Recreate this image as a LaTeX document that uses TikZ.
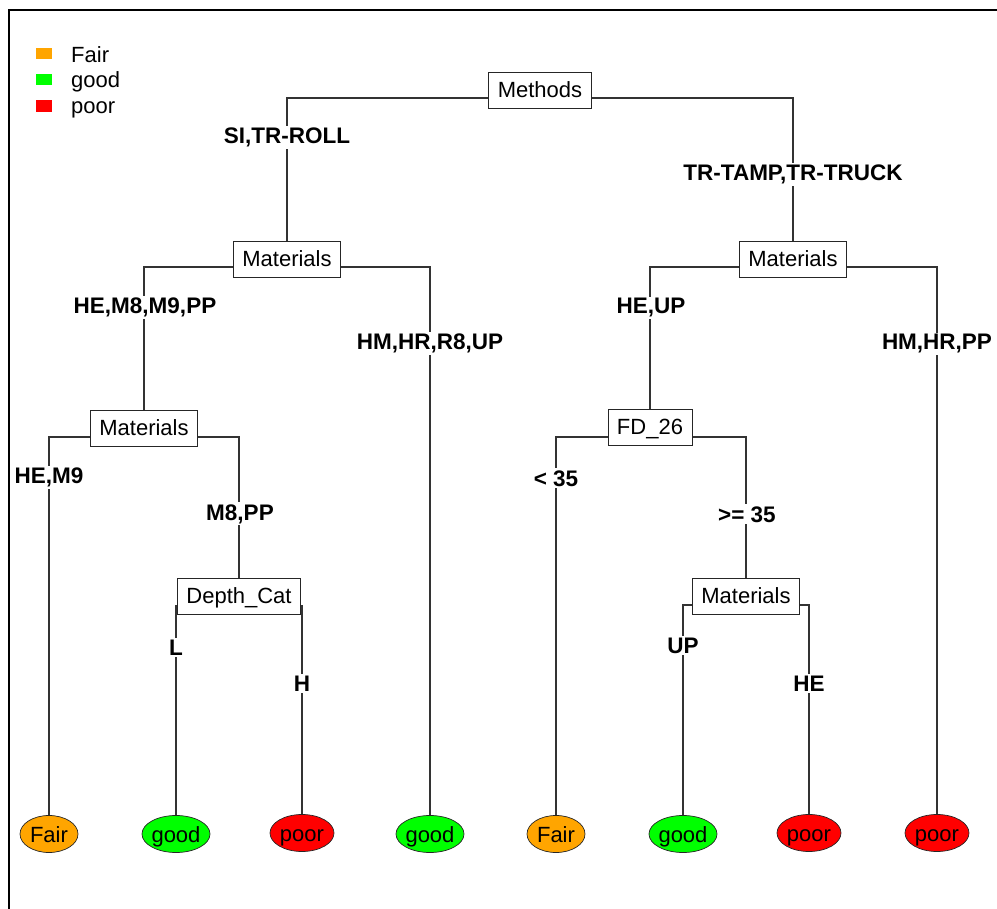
\documentclass[tikz,border=0pt]{standalone}
\usepackage{fontspec}
\setmainfont{Liberation Sans}
\usetikzlibrary{shapes.geometric,backgrounds}
\definecolor{fairc}{HTML}{FFA500}
\definecolor{goodc}{HTML}{00FF00}
\definecolor{poorc}{HTML}{FF0000}
\begin{document}
\begin{tikzpicture}[x=1pt,y=-1pt,
  font=\fontsize{22}{26}\selectfont,
  split/.style={draw=black!85, fill=white, line width=0.9pt, rectangle,
    inner xsep=9pt, inner ysep=8.5pt, text height=17pt, text depth=2pt,
    minimum height=36pt},
  leaf/.style={draw=black!85, ellipse, inner sep=0pt, minimum height=37pt,
    text height=17pt, text depth=1pt, line width=0.7pt},
  branch/.style={fill=white, inner sep=2pt, anchor=base,
    font=\fontsize{22.5}{26}\selectfont\bfseries},
  edge/.style={draw=black!80, line width=1.1pt},
  keytext/.style={anchor=base west, inner sep=0pt}
]
\useasboundingbox (0,0) rectangle (997,909);
\clip (0,0) rectangle (997,909);

% outer frame
\draw[line width=2pt] (9,930) -- (9,10) -- (1020,10);

% legend
\fill[fairc] (36,48) rectangle (52,59);
\fill[goodc] (36,74) rectangle (52,85);
\fill[poorc] (36,100) rectangle (52,112);
\node[keytext] (kfair) at (71,63) {Fair};
\node[keytext] (kgood) at (71,88) {good};
\node[keytext] (kpoor) at (71,114) {poor};

% split points (where the branches meet)
\coordinate (s1) at (540,98);
\coordinate (s2) at (287,267);
\coordinate (s3) at (793,267);
\coordinate (s4) at (144,437);
\coordinate (s5) at (650,437);
\coordinate (s6) at (239,606);
\coordinate (s7) at (746,605);

% split boxes
\node[split] (methods) at (540,90) {Methods};
\node[split] (matA) at (287,259) {Materials};
\node[split] (matB) at (793,259) {Materials};
\node[split] (matC) at (144,428) {Materials};
\node[split] (fd) at (650,427) {FD\_26};
\node[split] (depth) at (239,596) {Depth\_Cat};
\node[split] (matD) at (746,596) {Materials};

% leaves
\node[leaf, fill=fairc, minimum width=58pt] (l1) at (49,834) {\makebox[0pt]{Fair}};
\node[leaf, fill=goodc, minimum width=68pt] (l2) at (176,834) {\makebox[0pt]{good}};
\node[leaf, fill=poorc, minimum width=64pt] (l3) at (302,833) {\makebox[0pt]{poor}};
\node[leaf, fill=goodc, minimum width=68pt] (l4) at (430,834) {\makebox[0pt]{good}};
\node[leaf, fill=fairc, minimum width=58pt] (l5) at (556,834) {\makebox[0pt]{Fair}};
\node[leaf, fill=goodc, minimum width=68pt] (l6) at (683,834) {\makebox[0pt]{good}};
\node[leaf, fill=poorc, minimum width=64pt] (l7) at (809,833) {\makebox[0pt]{poor}};
\node[leaf, fill=poorc, minimum width=64pt] (l8) at (937,833) {\makebox[0pt]{poor}};

% branch connectors
\begin{pgfonlayer}{background}
\draw[edge] (s2) |- (s1) -| (s3);
\draw[edge] (s4) |- (s2) -| (l4.north);
\draw[edge] (s5) |- (s3) -| (l8.north);
\draw[edge] (l1.north) |- (s4) -| (s6);
\draw[edge] (l5.north) |- (s5) -| (s7);
\draw[edge] (l2.north) |- (s6) -| (l3.north);
\draw[edge] (l6.north) |- (s7) -| (l7.north);
\end{pgfonlayer}

% branch labels
\node[branch] (b1) at (287,144) {SI,TR-ROLL};
\node[branch] (b2) at (793,181) {TR-TAMP,TR-TRUCK};
\node[branch] (b3) at (145,314) {HE,M8,M9,PP};
\node[branch] (b4) at (430,350) {HM,HR,R8,UP};
\node[branch] (b5) at (651,314) {HE,UP};
\node[branch] (b6) at (937,350) {HM,HR,PP};
\node[branch] (b7) at (49,484) {HE,M9};
\node[branch] (b8) at (240,520) {M8,PP};
\node[branch] (b9) at (556,486) {< 35};
\node[branch] (b10) at (747,522) {>= 35};
\node[branch] (b11) at (176,655) {L};
\node[branch] (b12) at (302,691) {H};
\node[branch] (b13) at (683,653) {UP};
\node[branch] (b14) at (809,691) {HE};
\end{tikzpicture}
\end{document}
